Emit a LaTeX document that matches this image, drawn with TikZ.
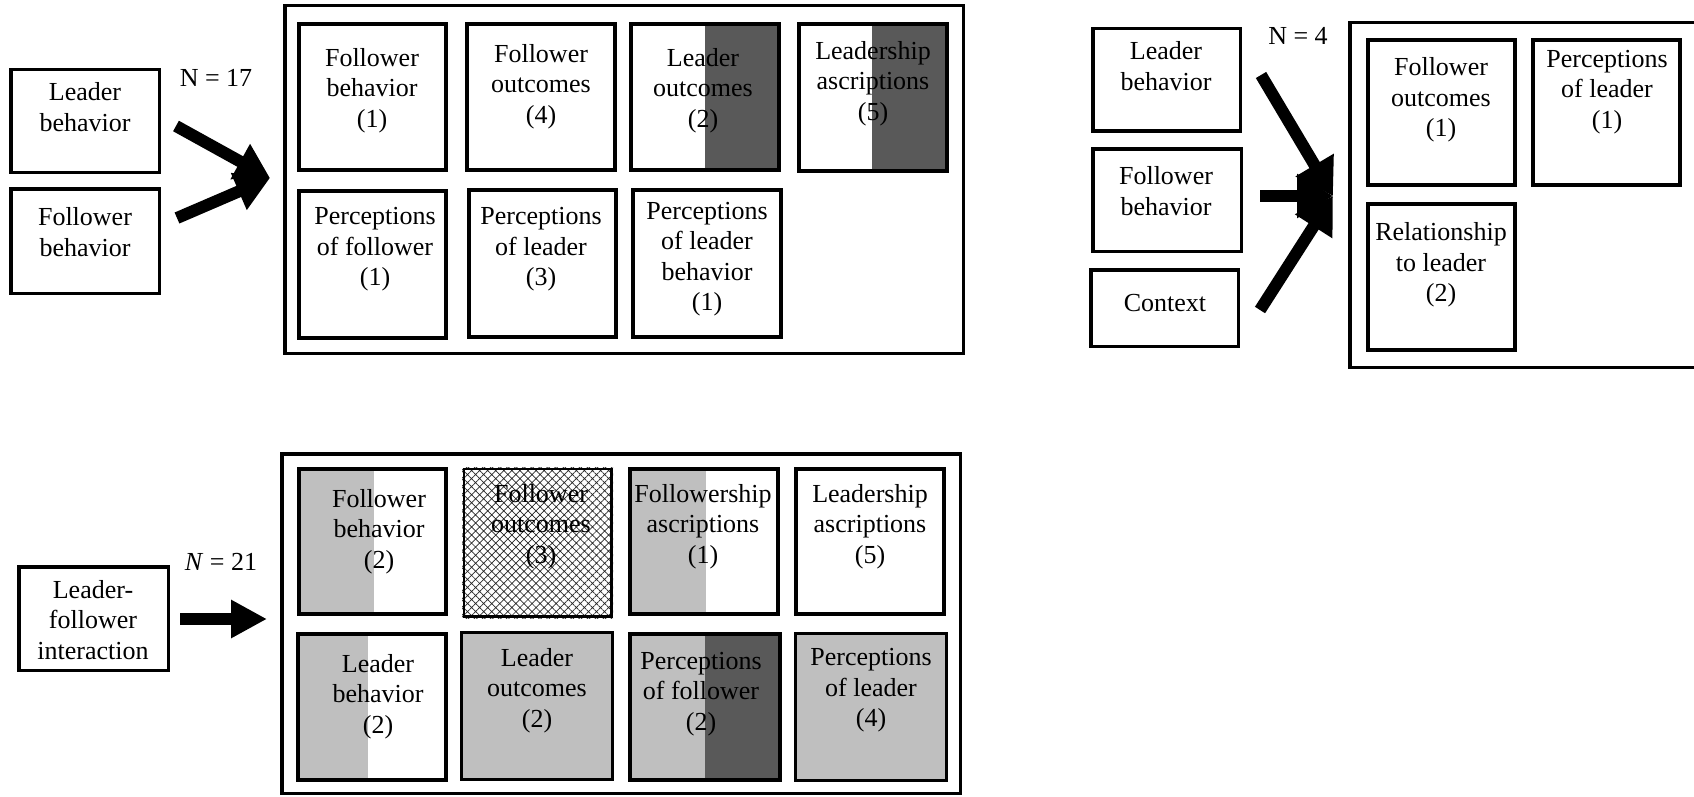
\documentclass[tikz,border=0pt]{standalone}
\usepackage{fontspec}
\setmainfont{Liberation Serif}
\usetikzlibrary{arrows.meta,patterns.meta}

\definecolor{shadelight}{gray}{0.75}
\definecolor{shadedark}{gray}{0.35}

\tikzset{
  inbox/.style={draw, line width=3.5pt, inner sep=0pt},
  framebox/.style={draw, line width=3.5pt, inner sep=0pt},
  cellbox/.style={draw, line width=4pt, inner sep=0pt},
  thincell/.style={draw, line width=3pt, inner sep=0pt},
  hatchcell/.style={draw, line width=2.5pt, inner sep=0pt},
  txt/.style={font=\fontsize{26}{30.5}\selectfont, align=center, inner sep=0pt},
  celltxt/.style={txt, yshift=-2.5pt},
  bigarrow/.style={line width=12pt, -{Triangle[length=34pt,width=38pt]}},
  widearrow/.style={line width=12pt, -{Triangle[length=36pt,width=42pt]}},
}

% box node from its outer edges: style, name, x1, y1, x2, y2
\newcommand\boxnode[6]{%
  \node[#1, minimum width={#5-#3-3.5}, minimum height={#6-#4-3.5}] (#2)
    at ({(#3+#5)/2},{(#4+#6)/2}) {};}

\begin{document}
\begin{tikzpicture}[x=1pt,y=-1pt]
\useasboundingbox (0,0) rectangle (1694,797);
\clip (0,0) rectangle (1694,797);

%% ---------- top left: two antecedents ----------
\boxnode{inbox}{inAlead}{9}{68}{161}{174}
\boxnode{inbox}{inAfoll}{9}{187}{161}{295}
\node[txt] (inAleadT) at (85,107) {Leader\\behavior};
\node[txt] (inAfollT) at (85,232) {Follower\\behavior};
\node[txt] (nA) at (216,78) {N = 17};

\boxnode{framebox}{frameA}{283}{4}{965}{355}

\fill[shadedark] (705,22) rectangle (781,172);
\fill[shadedark] (872,22) rectangle (949,173);

\boxnode{cellbox}{A1}{297}{22}{448}{172}
\boxnode{cellbox}{A2}{465}{22}{617}{172}
\boxnode{cellbox}{A3}{629}{22}{781}{172}
\boxnode{cellbox}{A4}{797}{22}{949}{173}
\boxnode{cellbox}{A5}{297}{189}{448}{340}
\boxnode{cellbox}{A6}{467}{188}{618}{339}
\boxnode{cellbox}{A7}{631}{188}{783}{339}

\node[celltxt] (A1t) at (372,88) {Follower\\behavior\\(1)};
\node[celltxt] (A2t) at (541,84) {Follower\\outcomes\\(4)};
\node[celltxt] (A3t) at (703,88) {Leader\\outcomes\\(2)};
\node[celltxt] (A4t) at (873,81) {Leadership\\ascriptions\\(5)};
\node[celltxt] (A5t) at (375,247) {Perceptions\\of follower\\(1)};
\node[celltxt] (A6t) at (541,247) {Perceptions\\of leader\\(3)};
\node[celltxt] (A7t) at (707,256.5) {Perceptions\\of leader\\behavior\\(1)};

\coordinate (tipA) at (270,178);
\coordinate (sA1) at (176,126);
\coordinate (sA2) at (177,218);
\draw[bigarrow] (sA1) -- (tipA);
\draw[bigarrow] (sA2) -- (tipA);

%% ---------- top right: three antecedents ----------
\boxnode{inbox}{inBlead}{1091}{27}{1242}{133}
\boxnode{inbox}{inBfoll}{1091}{147}{1243}{253}
\boxnode{inbox}{inBctx}{1089}{268}{1240}{348}
\node[txt] (inBleadT) at (1166,66) {Leader\\behavior};
\node[txt] (inBfollT) at (1166,191) {Follower\\behavior};
\node[txt] (inBctxT) at (1165,303.5) {Context};
\node[txt] (nB) at (1298,36) {N = 4};

\boxnode{framebox}{frameB}{1348}{21}{1730}{369}
\boxnode{cellbox}{B1}{1366}{38}{1517}{187}
\boxnode{cellbox}{B2}{1531}{38}{1682}{187}
\boxnode{cellbox}{B3}{1366}{202}{1517}{352}
\node[celltxt] (B1t) at (1441,97.5) {Follower\\outcomes\\(1)};
\node[celltxt] (B2t) at (1607,89.5) {Perceptions\\of leader\\(1)};
\node[celltxt] (B3t) at (1441,262.5) {Relationship\\to leader\\(2)};

\coordinate (tipB) at (1333,196);
\coordinate (sB1) at (1261,75);
\coordinate (sB2) at (1260,196);
\coordinate (sB3) at (1260,310);
\draw[widearrow] (sB1) -- (tipB);
\draw[widearrow] (sB3) -- (tipB);
\draw[widearrow] (sB2) -- (tipB);

%% ---------- bottom: interaction ----------
\boxnode{inbox}{inC}{17}{565}{170}{672}
\node[txt] (inCT) at (93,619.6) {Leader-\\follower\\interaction};
\node[txt] (nC) at (221,562) {\textit{N} = 21};

\coordinate (sC) at (180,619);
\coordinate (tipC) at (267,619);
\draw[line width=12pt, -{Triangle[length=36pt,width=36pt]}] (sC) -- (tipC);

\boxnode{framebox}{frameC}{280}{452}{962}{795}

\fill[shadelight] (297,467) rectangle (374,616);
\fill[white] (462,467) rectangle (613,618);
\fill[pattern={Hatch[angle=45,distance=5.7pt,line width=0.7pt]}, pattern color=black!85]
  (462,467) rectangle (613,618);
\fill[shadelight] (628,467) rectangle (706,616);
\fill[shadelight] (296,632) rectangle (368,782);
\fill[shadelight] (460,631) rectangle (614,781);
\fill[shadelight] (628,632) rectangle (705,782);
\fill[shadedark] (705,632) rectangle (782,782);
\fill[shadelight] (794,632) rectangle (948,782);

\boxnode{cellbox}{C1}{297}{467}{448}{616}
\boxnode{hatchcell}{C2}{462}{467}{613}{618}
\boxnode{cellbox}{C3}{628}{467}{780}{616}
\boxnode{cellbox}{C4}{794}{467}{946}{616}
\boxnode{cellbox}{C5}{296}{632}{448}{782}
\boxnode{thincell}{C6}{460}{631}{614}{781}
\boxnode{cellbox}{C7}{628}{632}{782}{782}
\boxnode{thincell}{C8}{794}{632}{948}{782}

\node[celltxt] (C1t) at (379,529) {Follower\\behavior\\(2)};
\node[celltxt] (C2t) at (541,524) {Follower\\outcomes\\(3)};
\node[celltxt] (C3t) at (703,524) {Followership\\ascriptions\\(1)};
\node[celltxt] (C4t) at (870,524) {Leadership\\ascriptions\\(5)};
\node[celltxt] (C5t) at (378,694) {Leader\\behavior\\(2)};
\node[celltxt] (C6t) at (537,688) {Leader\\outcomes\\(2)};
\node[celltxt] (C7t) at (701,691.5) {Perceptions\\of follower\\(2)};
\node[celltxt] (C8t) at (871,688) {Perceptions\\of leader\\(4)};

\end{tikzpicture}
\end{document}
